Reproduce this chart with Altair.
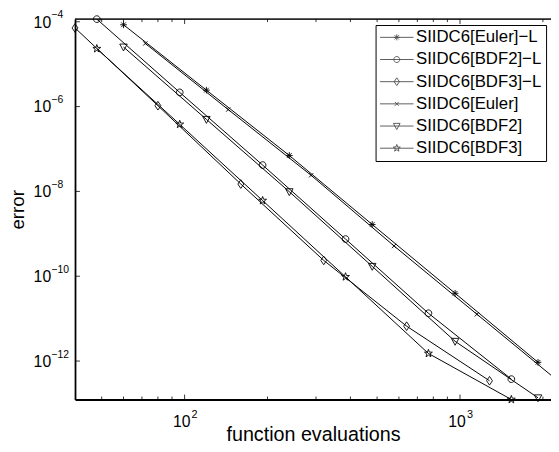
import math
import altair as alt
import pandas as pd

# ---------------- data ----------------
series_names = ["SIIDC6[Euler]−L", "SIIDC6[BDF2]−L", "SIIDC6[BDF3]−L",
                "SIIDC6[Euler]", "SIIDC6[BDF2]", "SIIDC6[BDF3]"]

evals_euler_L = [60, 120, 240, 480, 960, 1920]
err_euler_L = [8.5e-5, 2.44e-6, 7.03e-8, 1.66e-9, 3.96e-11, 9.33e-13]

evals_bdf2_L = [48, 96, 192, 384, 768, 1536]
err_bdf2_L = [1.155e-4, 2.16e-6, 4.18e-8, 7.53e-10, 1.34e-11, 3.75e-13]

evals_bdf3_L = [40, 80, 160, 320, 640, 1280]
err_bdf3_L = [7.14e-5, 1.05e-6, 1.49e-8, 2.36e-10, 6.65e-12, 3.43e-13]

evals_euler = [72, 144, 288, 576, 1152, 2304]
err_euler = [3.08e-5, 8.51e-7, 2.40e-8, 5.18e-10, 1.27e-11, 3.13e-13]

evals_bdf2 = [60, 120, 240, 480, 960, 1920]
err_bdf2 = [2.54e-5, 4.99e-7, 9.84e-9, 1.71e-10, 2.92e-12, 1.36e-13]

evals_bdf3 = [48, 96, 192, 384, 768, 1536]
err_bdf3 = [2.32e-5, 3.81e-7, 6.08e-9, 9.68e-11, 1.51e-12, 1.24e-13]

x_major = [100, 1000]
x_major_exp = ["2", "3"]
x_minor = [50, 60, 70, 80, 90, 200, 300, 400, 500, 600, 700, 800, 900, 2000]
y_major = [1e-4, 1e-6, 1e-8, 1e-10, 1e-12]
y_major_exp = ["−4", "−6", "−8", "−10", "−12"]

x_domain = [40, 2140]
y_domain = [1.24e-13, 1.155e-4]

# ---------------- table ----------------
all_x = [evals_euler_L, evals_bdf2_L, evals_bdf3_L, evals_euler, evals_bdf2, evals_bdf3]
all_y = [err_euler_L, err_bdf2_L, err_bdf3_L, err_euler, err_bdf2, err_bdf3]
rows = []
for name, xv_list, yv_list in zip(series_names, all_x, all_y):
    for i, (xv, yv) in enumerate(zip(xv_list, yv_list)):
        rows.append({"series": name, "evals": xv, "err": yv, "i": i})
df = pd.DataFrame(rows)

# ---------------- marker shapes ----------------
def f(v):
    return f"{v:.3f}"

def circle(s):
    r = 0.85 * s
    return f"M{f(-r)},0A{f(r)},{f(r)},0,1,1,{f(r)},0A{f(r)},{f(r)},0,1,1,{f(-r)},0Z"

def asterisk(s):
    a, d = 0.85 * s, 0.6 * s
    return (f"M0,{f(-a)}L0,{f(a)}M{f(-a)},0L{f(a)},0"
            f"M{f(-d)},{f(-d)}L{f(d)},{f(d)}M{f(-d)},{f(d)}L{f(d)},{f(-d)}")

def cross(s):
    d = 0.55 * s
    return f"M{f(-d)},{f(-d)}L{f(d)},{f(d)}M{f(-d)},{f(d)}L{f(d)},{f(-d)}"

def diamond(s):
    return f"M0,{f(-1.1*s)}L{f(0.75*s)},0L0,{f(1.1*s)}L{f(-0.75*s)},0Z"

def tri_down(s):
    return f"M{f(-0.95*s)},{f(-0.75*s)}L{f(0.95*s)},{f(-0.75*s)}L0,{f(1.0*s)}Z"

def star(s):
    pts = []
    for k in range(10):
        r = (1.05 if k % 2 == 0 else 0.42) * s
        a = -math.pi / 2 + k * math.pi / 5
        pts.append(f"{f(r*math.cos(a))},{f(r*math.sin(a))}")
    return "M" + "L".join(pts) + "Z"

makers = [asterisk, circle, diamond, cross, tri_down, star]
chart_shapes = [m(1.0) for m in makers]
legend_shapes = ["M-1,0L1,0" + m(0.21) for m in makers]

W, H = 483, 386
FONT = "Liberation Sans"

xs = alt.Scale(type="log", domain=x_domain, nice=False, zero=False)
ys = alt.Scale(type="log", domain=y_domain, nice=False, zero=False)

x_axis = alt.Axis(title="function evaluations", labels=False, ticks=False, grid=False,
                  domainColor="black", domainWidth=1.8,
                  titleFont=FONT, titleFontSize=20, titleFontWeight="normal",
                  titleColor="black", titleBaseline="alphabetic", titlePadding=41.5)
y_axis = alt.Axis(title="error", labels=False, ticks=False, grid=False,
                  domainColor="black", domainWidth=1.8,
                  titleFont=FONT, titleFontSize=19, titleFontWeight="normal",
                  titleColor="black", titleBaseline="alphabetic", titlePadding=52)

def X(field):
    return alt.X(field, scale=xs, axis=x_axis)

def Y(field):
    return alt.Y(field, scale=ys, axis=y_axis)

base = alt.Chart(df)

lines = base.mark_line(color="black", strokeWidth=1.0, clip=True).encode(
    x=X("evals:Q"), y=Y("err:Q"), detail="series:N", order="i:Q",
)

points = base.mark_point(filled=False, color="black", strokeWidth=0.9, size=64, opacity=1).encode(
    x=X("evals:Q"), y=Y("err:Q"),
    shape=alt.Shape("series:N", scale=alt.Scale(domain=series_names, range=chart_shapes), legend=None),
)

legend_layer = base.mark_point(filled=False, color="black", strokeWidth=0.9).encode(
    x=X("evals:Q"), y=Y("err:Q"),
    shape=alt.Shape("series:N",
                    scale=alt.Scale(domain=series_names, range=legend_shapes),
                    legend=alt.Legend(orient="none", legendX=305, legendY=6, title=None,
                                      labelFont=FONT, labelFontSize=17, labelColor="black",
                                      labelLimit=0, labelOffset=2,
                                      symbolSize=1156, symbolStrokeWidth=0.9,
                                      symbolStrokeColor="black", symbolFillColor="transparent",
                                      clipHeight=17, rowPadding=4.5, padding=4,
                                      strokeColor="black", fillColor="white")),
).transform_filter("false")

# inner ticks (MATLAB style)
dfx_major = pd.DataFrame({"v": x_major, "exp": x_major_exp, "base": ["10"] * len(x_major)})
dfx_minor = pd.DataFrame({"v": x_minor})
dfy_major = pd.DataFrame({"v": y_major, "exp": y_major_exp, "base": ["10"] * len(y_major)})

tick_style = dict(color="black", strokeWidth=0.8)
xt_b = alt.Chart(dfx_major).mark_rule(**tick_style).encode(
    x=X("v:Q"), y=alt.value(H), y2=alt.value(H - 5))
xt_t = alt.Chart(dfx_major).mark_rule(**tick_style).encode(
    x=X("v:Q"), y=alt.value(0), y2=alt.value(5))
xm_b = alt.Chart(dfx_minor).mark_rule(**tick_style).encode(
    x=X("v:Q"), y=alt.value(H), y2=alt.value(H - 3))
xm_t = alt.Chart(dfx_minor).mark_rule(**tick_style).encode(
    x=X("v:Q"), y=alt.value(0), y2=alt.value(3))
yt_l = alt.Chart(dfy_major).mark_rule(**tick_style).encode(
    y=Y("v:Q"), x=alt.value(0), x2=alt.value(5))

top_border = alt.Chart(dfx_major).mark_rule(color="black", strokeWidth=1).encode(
    x=alt.value(0), x2=alt.value(W), y=alt.value(0))

# tick labels with superscript exponents
xlab = alt.Chart(dfx_major).mark_text(font=FONT, fontSize=16, color="black",
                                      align="center", baseline="top", dx=-3, dy=15).encode(
    x=X("v:Q"), y=alt.value(H), text="base:N")
xexp = alt.Chart(dfx_major).mark_text(font=FONT, fontSize=11, color="black",
                                      align="left", baseline="top", dx=7, dy=10).encode(
    x=X("v:Q"), y=alt.value(H), text="exp:N")
ylab = alt.Chart(dfy_major).mark_text(font=FONT, fontSize=16, color="black",
                                      align="left", baseline="middle", dy=1).encode(
    y=Y("v:Q"), x=alt.value(-42), text="base:N")
yexp = alt.Chart(dfy_major).mark_text(font=FONT, fontSize=10.5, color="black",
                                      align="left", baseline="alphabetic", dy=-3.5).encode(
    y=Y("v:Q"), x=alt.value(-24), text="exp:N")

chart = alt.layer(
    lines, points, legend_layer,
    xt_b, xt_t, xm_b, xm_t, yt_l, top_border,
    xlab, xexp, ylab, yexp,
).resolve_scale(shape="independent").properties(
    width=W, height=H,
    autosize=alt.AutoSizeParams(type="none"),
    padding={"left": 68, "top": 8, "right": 0, "bottom": 50},
    background="white",
).configure_view(stroke=None)

chart.save("out.html", embed_options={"renderer": "svg", "actions": False})
